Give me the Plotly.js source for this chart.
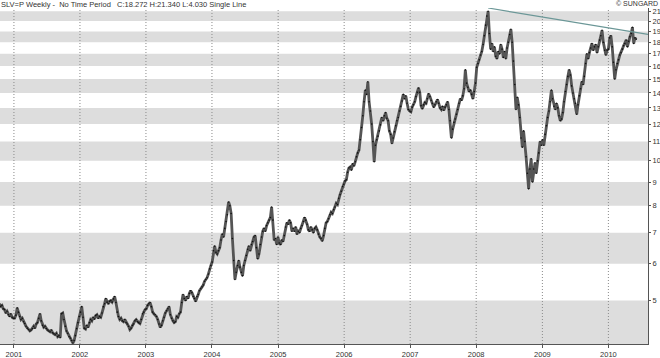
<!DOCTYPE html>
<html><head><meta charset="utf-8">
<script src="https://cdn.plot.ly/plotly-3.0.1.min.js"></script>
<style>html,body{margin:0;padding:0;background:#fff}#chart{width:660px;height:358px}</style>
</head><body><div id="chart"></div>
<script>
// Weekly closes (Friday), starting 2000-10-13
const startDate = '2000-10-13';
const w2000 = [4.92,4.86,4.88,4.80,4.78,4.70,4.74,4.66,4.62,4.68,4.60,4.58];
const w2001 = [4.58,4.65,4.82,4.72,4.62,4.55,4.58,4.50,4.46,4.40,4.36,4.33,4.30,4.32,4.35,4.40,4.36,4.45,4.48,4.58,4.68,4.52,4.42,4.38,4.40,4.35,4.32,4.30,4.28,4.32,4.26,4.24,4.22,4.25,4.18,4.20,4.16,4.68,4.70,4.55,4.40,4.30,4.25,4.18,4.15,4.10,4.05,4.10,4.20,4.35,4.48,4.62];
const w2002 = [4.72,4.85,4.60,4.36,4.34,4.42,4.38,4.48,4.55,4.52,4.60,4.56,4.64,4.66,4.58,4.62,4.60,4.70,4.85,4.92,5.05,4.96,4.92,4.98,5.00,4.96,5.04,5.10,4.95,4.72,4.62,4.55,4.58,4.52,4.50,4.55,4.48,4.45,4.40,4.33,4.36,4.42,4.45,4.52,4.55,4.50,4.48,4.46,4.55,4.68,4.72,4.78];
const w2003 = [4.80,4.88,4.92,4.95,4.85,4.72,4.68,4.66,4.62,4.55,4.45,4.38,4.42,4.52,4.60,4.70,4.75,4.80,4.85,4.66,4.58,4.52,4.48,4.50,4.62,4.60,4.68,4.72,4.95,5.15,5.05,5.00,5.10,5.05,5.18,5.25,5.20,5.10,5.05,4.98,5.10,5.15,5.25,5.30,5.35,5.40,5.50,5.55,5.60,5.70,5.85,5.95];
const w2004 = [6.05,6.40,6.55,6.35,6.30,6.40,6.50,6.75,6.95,6.85,7.15,7.40,7.65,8.15,8.00,7.70,6.80,6.10,5.55,5.75,5.95,6.10,5.90,5.75,5.65,5.95,6.10,6.25,6.45,6.55,6.40,6.60,6.70,6.85,6.90,6.50,6.15,6.30,6.60,6.85,7.05,7.15,7.05,7.25,7.35,7.45,7.55,7.95,7.45,6.75,6.80,6.60,6.85];
const w2005 = [6.65,6.60,6.75,6.70,6.90,7.20,7.35,7.30,7.45,7.35,7.05,7.15,7.05,7.20,6.95,7.05,7.00,7.15,7.25,7.40,7.55,7.45,7.30,7.10,7.05,7.20,7.10,7.00,7.15,7.20,7.10,6.95,6.85,6.80,6.72,6.90,7.15,7.35,7.40,7.50,7.65,7.75,7.70,7.85,7.95,8.10,8.05,8.30,8.45,8.60,8.80,8.90];
const w2006 = [9.05,9.10,9.45,9.65,9.70,9.55,9.85,9.75,9.95,10.20,10.40,10.55,11.10,11.80,12.50,13.40,14.20,13.90,14.80,13.40,12.80,12.00,11.00,9.95,10.80,11.10,11.30,11.60,11.95,12.40,12.20,12.50,12.70,12.35,12.20,11.60,11.40,10.90,11.20,11.55,11.90,12.20,12.40,12.80,13.10,13.45,13.90,13.60,13.80,13.30,12.90,12.80];
const w2007 = [12.75,13.05,13.20,13.40,13.75,14.05,14.35,14.05,13.15,12.95,13.20,13.35,13.30,13.60,13.95,13.75,13.50,13.30,13.05,13.20,13.40,13.55,13.30,13.00,12.90,13.10,12.85,13.05,13.20,13.40,12.90,12.20,11.20,11.70,12.10,12.30,12.60,12.90,13.30,13.60,13.50,13.80,14.30,15.70,14.70,14.40,14.10,14.20,13.90,13.60,14.10,14.70];
const w2008 = [15.90,16.20,16.50,16.90,17.20,17.80,18.60,19.60,20.50,21.00,18.80,17.40,17.90,17.20,17.60,16.80,16.60,17.20,17.00,17.80,17.40,16.70,17.20,16.60,17.50,18.00,18.70,19.20,18.00,16.40,14.60,12.90,13.70,13.20,12.40,11.20,10.70,11.60,11.00,10.20,9.40,8.70,9.60,10.10,9.00,9.60,9.90,9.40,10.00,10.40,11.00,10.80];
const w2009 = [11.10,10.80,11.40,11.90,12.40,12.80,13.40,14.20,13.60,13.10,12.90,13.30,13.00,12.50,12.20,12.30,12.70,13.40,14.10,14.60,15.20,15.70,15.30,14.50,14.00,13.60,13.30,12.60,13.20,13.80,14.30,14.80,14.60,15.20,16.20,17.00,16.60,17.10,17.50,17.90,17.30,17.60,17.80,17.10,17.60,18.20,18.60,19.10,18.00,17.30,16.90,17.30];
const w2010 = [17.40,18.40,18.60,17.60,16.30,15.00,15.70,16.20,16.50,16.90,17.10,17.40,17.70,17.90,18.20,17.60,18.10,18.50,18.80,19.40,17.90,18.40,18.27];

// Trend line (from the March 2008 high to the right edge)
const trendDates = ['2008-03-07', '2010-08-08'];
const trendValues = [21.34, 18.72];

const yTicks = [5,6,7,8,9,10,11,12,13,14,15,16,17,18,19,20,21];
const yearTicks = ['2001','2002','2003','2004','2005','2006','2007','2008','2009','2010'];
const bandPairs = [[4,5],[6,7],[8,9],[10,11],[12,13],[14,15],[16,17],[18,19],[20,21]];

const closes = [].concat(w2000,w2001,w2002,w2003,w2004,w2005,w2006,w2007,w2008,w2009,w2010);
const t0 = Date.parse(startDate + 'T00:00:00Z');
const dates = closes.map((_, i) => new Date(t0 + i * 7 * 86400000).toISOString().slice(0, 10));

const bandShapes = bandPairs.map(p => ({
  type: 'rect', xref: 'paper', yref: 'y', x0: 0, x1: 1,
  y0: p[0], y1: p[1],
  fillcolor: '#dddddd', line: {width: 0}, layer: 'below'
}));
const gridShapes = yearTicks.map(y => ({
  type: 'line', xref: 'x', yref: 'paper', x0: y + '-01-01', x1: y + '-01-01',
  y0: 0, y1: 1, line: {color: '#8a8a8a', width: 1, dash: '1px,2px'}, layer: 'below'
}));

const font = {family: '"Liberation Sans", Arial, sans-serif', size: 7.5, color: '#333'};

const data = [
  {x: dates, y: closes, type: 'scatter', mode: 'lines',
   line: {color: '#555555', width: 2.8}, hoverinfo: 'skip'},
  {x: dates, y: closes, type: 'scatter', mode: 'markers',
   marker: {color: '#111', size: 1.6}, hoverinfo: 'skip'},
  {x: trendDates, y: trendValues, type: 'scatter', mode: 'lines',
   line: {color: '#6b9797', width: 1.2}, hoverinfo: 'skip'}
];

const layout = {
  width: 660, height: 358,
  margin: {l: 0, r: 12, t: 8, b: 14, pad: 0},
  paper_bgcolor: '#ffffff', plot_bgcolor: 'rgba(0,0,0,0)',
  showlegend: false,
  font: font,
  xaxis: {
    type: 'date', range: ['2000-10-16', '2010-08-08'],
    tickvals: yearTicks.map(y => y + '-01-01'), ticktext: yearTicks,
    showgrid: false,
    showline: true, linecolor: '#555555', linewidth: 1,
    ticks: 'outside', ticklen: 3, tickcolor: '#555555',
    tickfont: font, zeroline: false, automargin: false, fixedrange: true
  },
  yaxis: {
    type: 'log', side: 'right',
    range: [Math.log10(4.03), Math.log10(21.34)],
    tickvals: yTicks, ticktext: yTicks.map(String),
    showgrid: false, zeroline: false,
    showline: true, linecolor: '#555555', linewidth: 1,
    ticks: 'outside', ticklen: 2, tickcolor: '#555555',
    tickfont: font, automargin: false, fixedrange: true
  },
  shapes: bandShapes.concat(gridShapes),
  annotations: [
    {xref: 'paper', yref: 'paper', x: 0, y: 1 + 4/336, xanchor: 'left', yanchor: 'middle',
     text: 'SLV=P Weekly -  No Time Period   C:18.272 H:21.340 L:4.030 Single Line',
     showarrow: false, font: font, borderpad: 0},
    {xref: 'paper', yref: 'paper', x: 659/648, y: 1 + 5/336, xanchor: 'right', yanchor: 'middle',
     text: '\u00A9 SUNGARD', showarrow: false, font: {family: font.family, size: 7, color: '#333'}, borderpad: 0}
  ]
};

Plotly.newPlot('chart', data, layout, {staticPlot: true, displayModeBar: false});
</script>
</body></html>
